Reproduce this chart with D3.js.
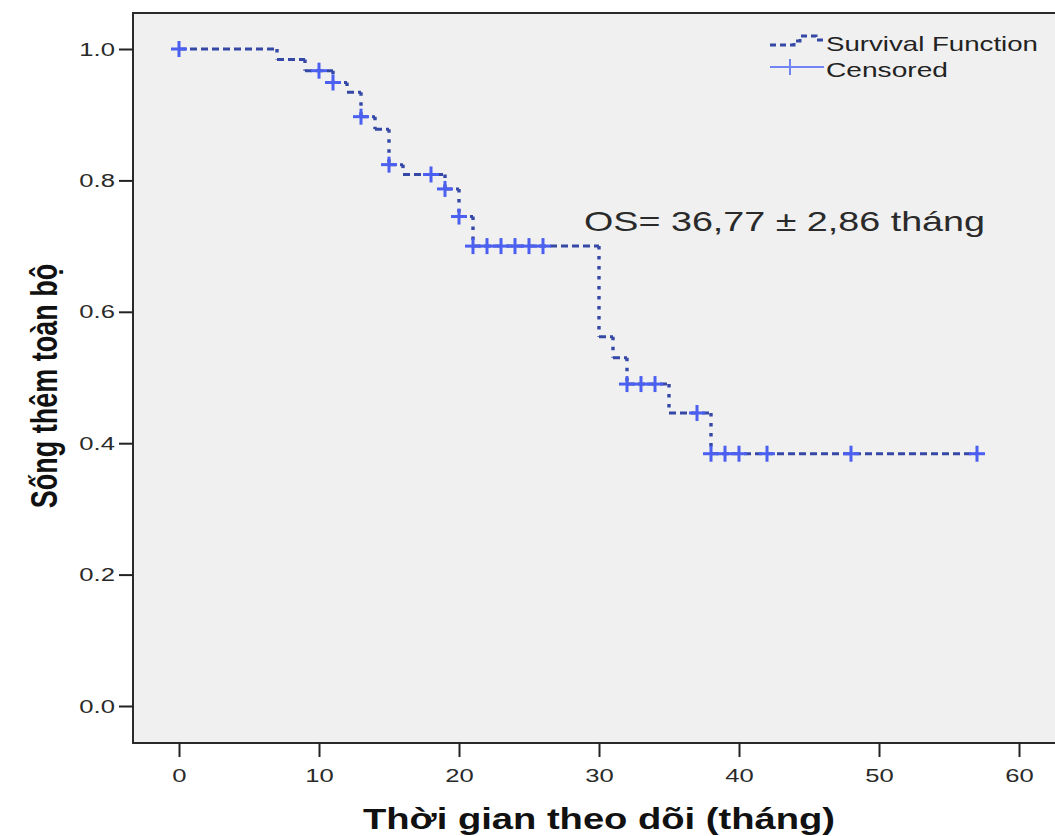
<!DOCTYPE html>
<html>
<head>
<meta charset="utf-8">
<script src="https://cdn.jsdelivr.net/npm/d3@7"></script>
<style>
  html, body { margin: 0; padding: 0; background: #ffffff; }
  svg { display: block; }
  text { font-family: "Liberation Sans", Arial, sans-serif; }
</style>
</head>
<body>
<svg id="chart" width="1055" height="836"></svg>
<script>
// Kaplan–Meier overall survival: event times (months) and survival after each step
const eventTimes = [0, 7, 9, 11, 12, 13, 14, 15, 16, 19, 20, 21, 30, 31, 32, 35, 38];
const survival   = [1.0, 0.984, 0.967, 0.949, 0.934, 0.897, 0.878, 0.824, 0.809, 0.787, 0.745, 0.700, 0.562, 0.530, 0.490, 0.446, 0.384];
const lastFollowUp = 57;

// Censored observations (months)
const censorTimes = [0, 10, 11, 13, 15, 18, 19, 20, 21, 22, 23, 24, 25, 26, 32, 33, 34, 37, 38, 39, 40, 42, 48, 57];

// Axis ticks
const xTicks = [0, 10, 20, 30, 40, 50, 60];
const yTicks = [0.0, 0.2, 0.4, 0.6, 0.8, 1.0];

const xTitle = "Thời gian theo dõi (tháng)";
const yTitle = "Sống thêm toàn bộ";
const annotation = "OS= 36,77 ± 2,86 tháng";
const legendLabels = ["Survival Function", "Censored"];

const svg = d3.select("#chart");

const frame = { left: 133, top: 13, right: 1062, bottom: 743 };
const x = d3.scaleLinear().domain([0, 60]).range([179, 1019]);
const y = d3.scaleLinear().domain([0, 1]).range([706, 49]);

const lineColor = "#3548a6";
const crossColor = "#4b5ff0";
const stretch = 1.35; // wide glyphs used for the numeric labels

// Plot panel
svg.append("rect")
  .attr("x", frame.left).attr("y", frame.top)
  .attr("width", frame.right - frame.left).attr("height", frame.bottom - frame.top)
  .attr("fill", "#f0f0f0")
  .attr("stroke", "#2a2a2a").attr("stroke-width", 2);

// X axis
const gx = svg.append("g")
  .attr("transform", `translate(0,${frame.bottom})`)
  .call(d3.axisBottom(x).tickValues(xTicks).tickFormat(d3.format("d")).tickSize(14).tickPadding(12));
gx.select(".domain").remove();
gx.selectAll(".tick line").attr("stroke", "#222").attr("stroke-width", 2);
gx.selectAll(".tick text")
  .attr("fill", "#2a2a2a").attr("font-size", 19)
  .attr("font-family", "'Liberation Sans', Arial, sans-serif")
  .attr("transform", `scale(${stretch},1)`);

// Y axis
const gy = svg.append("g")
  .attr("transform", `translate(${frame.left},0)`)
  .call(d3.axisLeft(y).tickValues(yTicks).tickFormat(d3.format(".1f")).tickSize(14).tickPadding(3));
gy.select(".domain").remove();
gy.selectAll(".tick line").attr("stroke", "#222").attr("stroke-width", 2);
gy.selectAll(".tick text")
  .attr("fill", "#2a2a2a").attr("font-size", 19)
  .attr("font-family", "'Liberation Sans', Arial, sans-serif")
  .attr("x", 0)
  .attr("transform", `translate(-18,0) scale(${stretch},1)`);

// Step function of the survival curve
const curve = svg.append("g");
const horiz = eventTimes.map((t, i) => ({
  t0: t,
  t1: i < eventTimes.length - 1 ? eventTimes[i + 1] : lastFollowUp,
  s: survival[i]
}));
const vert = eventTimes.slice(1).map((t, i) => ({ t: t, s0: survival[i], s1: survival[i + 1] }));

curve.selectAll("line.h").data(horiz).join("line")
  .attr("class", "h")
  .attr("x1", d => x(d.t0)).attr("x2", d => x(d.t1))
  .attr("y1", d => y(d.s)).attr("y2", d => y(d.s))
  .attr("stroke", lineColor).attr("stroke-width", 3)
  .attr("stroke-dasharray", "7,4");

curve.selectAll("line.v").data(vert).join("line")
  .attr("class", "v")
  .attr("x1", d => x(d.t)).attr("x2", d => x(d.t))
  .attr("y1", d => y(d.s0)).attr("y2", d => y(d.s1))
  .attr("stroke", lineColor).attr("stroke-width", 3.4)
  .attr("stroke-dasharray", "3.5,6.5");

// Survival value in effect at time t
function survivalAt(t) {
  let s = 1;
  eventTimes.forEach((et, i) => { if (et <= t) s = survival[i]; });
  return s;
}

// Censoring crosses
const crosses = svg.append("g").selectAll("g").data(censorTimes).join("g")
  .attr("transform", d => `translate(${x(d)},${y(survivalAt(d))})`);
crosses.append("line").attr("x1", -8).attr("x2", 8).attr("y1", 0).attr("y2", 0)
  .attr("stroke", crossColor).attr("stroke-width", 3);
crosses.append("line").attr("x1", 0).attr("x2", 0).attr("y1", -8).attr("y2", 8)
  .attr("stroke", crossColor).attr("stroke-width", 3);

// Median survival note
svg.append("text")
  .attr("x", 584).attr("y", 231)
  .attr("font-size", 28).attr("fill", "#2a2a2a")
  .attr("textLength", 401).attr("lengthAdjust", "spacingAndGlyphs")
  .text(annotation);

// Legend
const legend = svg.append("g");
legend.append("path")
  .attr("d", "M770,45 H794 V41 H800 V36 H816 V40 H823")
  .attr("fill", "none").attr("stroke", lineColor).attr("stroke-width", 3)
  .attr("stroke-dasharray", "6,4");
legend.append("line").attr("x1", 770).attr("x2", 824).attr("y1", 67).attr("y2", 67)
  .attr("stroke", "#7284f2").attr("stroke-width", 2);
legend.append("line").attr("x1", 790).attr("x2", 790).attr("y1", 59).attr("y2", 75)
  .attr("stroke", "#7284f2").attr("stroke-width", 2);
legend.selectAll("text").data(legendLabels).join("text")
  .attr("x", 826).attr("y", (d, i) => 51 + i * 26)
  .attr("font-size", 21).attr("fill", "#222")
  .attr("textLength", (d, i) => i === 0 ? 212 : 122)
  .attr("lengthAdjust", "spacingAndGlyphs")
  .text(d => d);

// Axis titles
svg.append("text")
  .attr("x", 363).attr("y", 829)
  .attr("font-size", 30).attr("font-weight", "bold").attr("fill", "#111")
  .attr("font-family", "'Liberation Sans Narrow', 'Liberation Sans', Arial, sans-serif")
  .attr("textLength", 472).attr("lengthAdjust", "spacingAndGlyphs")
  .text(xTitle);

svg.append("text")
  .attr("transform", `translate(57,386) scale(1.35,1) rotate(-90)`)
  .attr("text-anchor", "middle")
  .attr("font-size", 27).attr("font-weight", "bold").attr("fill", "#111")
  .text(yTitle);
</script>
</body>
</html>
